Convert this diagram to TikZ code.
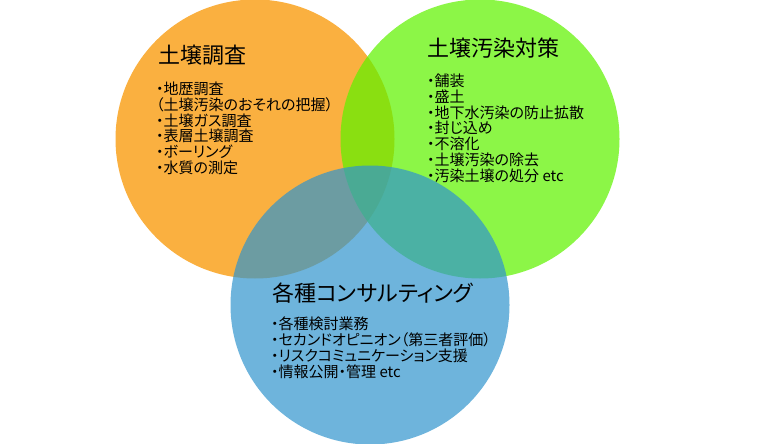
\documentclass[tikz,border=0pt]{standalone}
\usepackage{fontspec}
\setmainfont{Noto Sans CJK JP}[RawFeature=+palt]
\usetikzlibrary{positioning}
\definecolor{surveyfill}{RGB}{250,176,64}
\definecolor{measurefill}{RGB}{96,242,0}
\definecolor{consultfill}{RGB}{48,148,205}

\begin{document}
\begin{tikzpicture}[x=1pt, y=-1pt,
  disc/.style={circle, draw=none, minimum size=279pt, inner sep=0pt},
  ttl/.style={font=\fontsize{22}{26}\selectfont, anchor=base west, inner sep=0pt},
  lst/.style={font=\fontsize{15}{15.7}\selectfont, align=left, anchor=north west, inner sep=0pt}]

  \useasboundingbox (0,0) rectangle (760,444);

  \node[disc, fill=surveyfill] (survey) at (255,139) {};
  \node[disc, fill=measurefill, fill opacity=0.72] (measure) at (480,139) {};
  \node[disc, fill=consultfill, fill opacity=0.7] (consult) at (370,305) {};

  \node[ttl] (surveyttl) at (158,63.5) {土壌調査};
  \node[lst] (surveylst) at (156,82) {・地歴調査\\（土壌汚染のおそれの把握）\\・土壌ガス調査\\・表層土壌調査\\・ボーリング\\・水質の測定};

  \node[ttl] (measurettl) at (427,56.5) {土壌汚染対策};
  \node[lst] (measurelst) at (427,74) {・舗装\\・盛土\\・地下水汚染の防止拡散\\・封じ込め\\・不溶化\\・土壌汚染の除去\\・汚染土壌の処分 etc};

  \node[ttl] (consultttl) at (272,301) {各種コンサルティング};
  \node[lst] (consultlst) at (271,317) {・各種検討業務\\・セカンドオピニオン（第三者評価）\\・リスクコミュニケーション支援\\・情報公開・管理 etc};

\end{tikzpicture}
\end{document}
